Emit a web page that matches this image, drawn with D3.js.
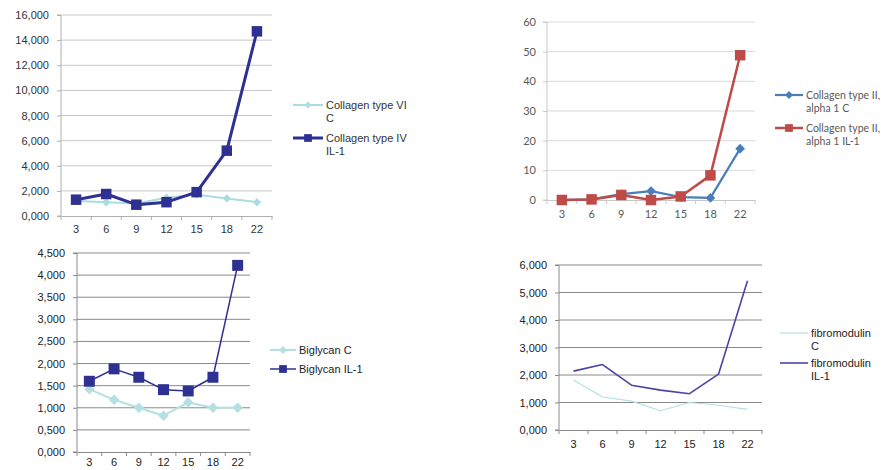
<!DOCTYPE html>
<html><head><meta charset="utf-8">
<script src="https://cdn.jsdelivr.net/npm/d3@7"></script>
<style>body{margin:0;background:#fff}svg{display:block}</style>
</head><body>
<svg id="c" width="891" height="470"></svg>
<script>
// ---- data ----
const days = ["3","6","9","12","15","18","22"];
// panel 1
const col6C   = [1.2, 1.1, 1.0, 1.45, 1.7, 1.4, 1.1];
const col4IL1 = [1.3, 1.75, 0.9, 1.1, 1.9, 5.2, 14.7];
const p1Ticks = [0,2,4,6,8,10,12,14,16];
// panel 2
const col2C   = [0, 0.2, 2.0, 3.0, 1.0, 0.7, 17.3];
const col2IL1 = [0, 0.2, 1.7, 0.0, 1.2, 8.3, 48.8];
const p2Ticks = [0,10,20,30,40,50,60];
// panel 3
const bigC   = [1.42, 1.18, 1.0, 0.82, 1.12, 1.0, 1.0];
const bigIL1 = [1.6, 1.88, 1.69, 1.41, 1.38, 1.69, 4.22];
const p3Ticks = [0,0.5,1,1.5,2,2.5,3,3.5,4,4.5];
// panel 4
const fibC   = [1.82, 1.2, 1.05, 0.7, 1.0, 0.9, 0.75];
const fibIL1 = [2.14, 2.38, 1.63, 1.45, 1.32, 2.03, 5.43];
const p4Ticks = [0,1,2,3,4,5,6];
// legend labels
const p1Legend = [["Collagen type VI","C"],["Collagen type IV","IL-1"]];
const p2Legend = [["Collagen type II,","alpha 1  C"],["Collagen type II,","alpha 1 IL-1"]];
const p3Legend = [["Biglycan C"],["Biglycan IL-1"]];
const p4Legend = [["fibromodulin","C"],["fibromodulin","IL-1"]];

const svg = d3.select("#c");
const comma3 = d => d3.format(".3f")(d).replace(".", ",");
const plain = d => d3.format("d")(d);

function panel(cfg){
  const g = svg.append("g");
  const x = d3.scaleBand().domain(days).range([cfg.x0, cfg.x1]).padding(0);
  const y = d3.scaleLinear().domain([0, d3.max(cfg.ticks)]).range([cfg.y0, cfg.y1]);
  // gridlines
  g.selectAll(".grid").data(cfg.ticks.filter(t=>t>0)).join("line")
    .attr("x1", cfg.x0).attr("x2", cfg.x1)
    .attr("y1", d=>y(d)).attr("y2", d=>y(d))
    .attr("stroke", cfg.grid).attr("stroke-width", cfg.gridW||1);
  // y axis
  const ya = g.append("g").attr("transform",`translate(${cfg.x0},0)`)
    .call(d3.axisLeft(y).tickValues(cfg.ticks).tickFormat(cfg.fmt).tickSize(4).tickPadding(cfg.ypad||5));
  ya.select(".domain").attr("stroke", cfg.axis).attr("d", `M-4,${cfg.y0}H0V${cfg.y1}H-4`);
  ya.selectAll(".tick line").attr("stroke", cfg.axis);
  ya.selectAll("text").attr("fill", cfg.text).style("font-family", cfg.font).style("font-size", cfg.fs+"px");
  // x axis
  const xa = g.append("g").attr("transform",`translate(0,${cfg.y0})`)
    .call(d3.axisBottom(x).tickSize(0).tickPadding(cfg.xpad||9).tickSizeOuter(0));
  xa.select(".domain").attr("stroke", cfg.axis);
  xa.selectAll("text").attr("fill", cfg.text).style("font-family", cfg.font).style("font-size", cfg.fs+"px");
  const bounds = days.map(d=>x(d)).concat([cfg.x1]);
  xa.selectAll(".bt").data(bounds).join("line").attr("class","bt")
    .attr("x1", d=>d).attr("x2", d=>d).attr("y1",0).attr("y2",4).attr("stroke", cfg.axis);
  const cx = d => x(d) + x.bandwidth()/2;
  // series
  cfg.series.forEach(s=>{
    const line = d3.line().x((v,i)=>cx(days[i])).y(v=>y(v));
    g.append("path").datum(s.values).attr("d", line).attr("fill","none")
      .attr("stroke", s.color).attr("stroke-width", s.w).attr("stroke-linejoin","round");
    if (s.marker) {
      const sym = d3.symbol().type(s.marker==="square"?d3.symbolSquare:d3.symbolDiamond2).size(s.ms);
      g.selectAll(null).data(s.values).join("path")
        .attr("transform",(v,i)=>`translate(${cx(days[i])},${y(v)})`)
        .attr("d", sym).attr("fill", s.mfill||s.color).attr("stroke", s.mstroke||"none");
    }
  });
  // legend
  cfg.legend.forEach((lab,i)=>{
    const s = cfg.series[i];
    const ly = cfg.ly[i];
    g.append("line").attr("x1", cfg.lx).attr("x2", cfg.lx+cfg.lw).attr("y1", ly).attr("y2", ly)
      .attr("stroke", s.color).attr("stroke-width", s.lw||s.w);
    if (s.marker) {
      const sym = d3.symbol().type(s.marker==="square"?d3.symbolSquare:d3.symbolDiamond2).size(s.lms||s.ms*0.6);
      g.append("path").attr("transform",`translate(${cfg.lx+cfg.lw/2},${ly})`).attr("d", sym).attr("fill", s.mfill||s.color);
    }
    const t = g.append("text").attr("x", cfg.lx+cfg.lw+3).attr("y", ly+4)
      .attr("fill", cfg.ltext||cfg.text).style("font-family", cfg.font).style("font-size", cfg.lfs+"px");
    lab.forEach((l,j)=>t.append("tspan").attr("x", cfg.lx+cfg.lw+3).attr("dy", j?13:0).text(l));
  });
}

panel({x0:61, x1:272, y0:216, y1:15, ticks:p1Ticks, fmt:comma3,
  grid:"#c8c8c8", axis:"#b0b0b0", text:"#333", font:"Liberation Sans, Arial, sans-serif", fs:11, lfs:11, ypad:8, xpad:9,
  series:[{values:col6C,color:"#a9dde0",w:2,marker:"diamond",ms:45,lms:30},
          {values:col4IL1,color:"#2e3192",w:3,marker:"square",ms:110,lms:60}],
  legend:p1Legend, lx:293, lw:30, ly:[105,138]});

panel({x0:547, x1:755, y0:200, y1:22, ticks:p2Ticks, fmt:plain,
  grid:"#d9d9d9", axis:"#c8c8c8", text:"#595959", font:"Lato, Carlito, sans-serif", fs:11, lfs:10.5, ypad:7, xpad:10,
  series:[{values:col2C,color:"#4a7ebb",w:2.2,marker:"diamond",ms:60,lms:40},
          {values:col2IL1,color:"#be4b48",w:2.5,marker:"square",ms:110,lms:60}],
  legend:p2Legend, lx:775, lw:28, ly:[95,128]});

panel({x0:77, x1:250, y0:452, y1:253, ticks:p3Ticks, fmt:comma3,
  grid:"#8a8a8a", axis:"#8a8a8a", text:"#222", font:"Liberation Sans, Arial, sans-serif", fs:11, lfs:11, ypad:8, xpad:6,
  series:[{values:bigC,color:"#b4e0e2",w:2,marker:"diamond",ms:70,lms:40},
          {values:bigIL1,color:"#2e3192",w:1.5,marker:"square",ms:120,lms:60,mfill:"#2e3192"}],
  legend:p3Legend, lx:270, lw:26, ly:[350,369]});

panel({x0:559, x1:762, y0:430, y1:265, ticks:p4Ticks, fmt:comma3,
  grid:"#8a8a8a", axis:"#8a8a8a", text:"#222", font:"Liberation Sans, Arial, sans-serif", fs:11, lfs:11, ypad:8, xpad:10,
  series:[{values:fibC,color:"#b4e0e2",w:1.2},
          {values:fibIL1,color:"#4a44a8",w:1.6}],
  legend:p4Legend, lx:780, lw:28, ly:[333,363]});
</script>
</body></html>
